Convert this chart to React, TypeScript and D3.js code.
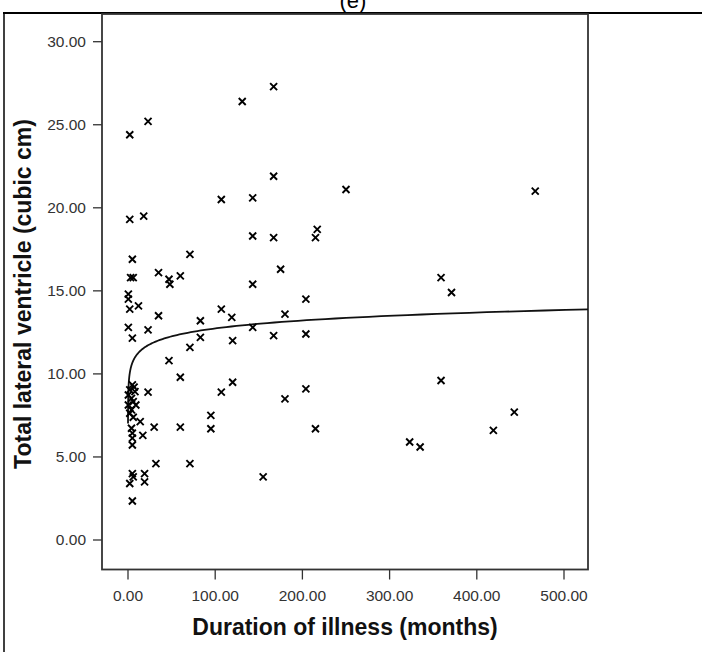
import React from "react";
import * as d3 from "d3";

// duration of illness (months) and total lateral ventricle volume (cubic cm)
const durationMonths = [
  2, 23, 131, 167, 167, 107, 143, 250, 467, 2, 18, 217, 215, 143, 167, 71, 5, 175, 35, 60,
  47, 48, 3, 6, 143, 359, 371, 204, 0.4, 0.4, 2, 12, 35, 107, 119, 180, 83, 0.4, 23, 143,
  167, 204, 5, 83, 120, 71, 47, 60, 120, 359, 204, 107, 23, 180,
  5, 7, 2, 8, 0.4, 4, 6, 0.4, 9, 4, 2, 6, 14, 4, 5, 17, 5, 5,
  30, 60, 95, 95, 215, 443, 419, 323, 335, 32, 71, 5, 6, 19, 2, 19, 5, 155,
];
const ventricleVolume = [
  24.4, 25.2, 26.4, 27.3, 21.9, 20.5, 20.6, 21.1, 21.0, 19.3, 19.5, 18.7, 18.2, 18.3, 18.2, 17.2, 16.9, 16.3, 16.1, 15.9,
  15.7, 15.4, 15.8, 15.8, 15.4, 15.8, 14.9, 14.5, 14.8, 14.5, 13.9, 14.1, 13.5, 13.9, 13.4, 13.6, 13.2, 12.8, 12.65, 12.8,
  12.3, 12.4, 12.15, 12.2, 12.0, 11.6, 10.8, 9.8, 9.5, 9.6, 9.1, 8.9, 8.9, 8.5,
  9.34, 9.2, 9.04, 8.93, 8.73, 8.53, 8.33, 8.13, 8.13, 7.83, 7.63, 7.39, 7.13, 6.73, 6.43, 6.3, 6.13, 5.72,
  6.8, 6.8, 7.5, 6.7, 6.7, 7.7, 6.6, 5.9, 5.6, 4.6, 4.6, 4.0, 3.8, 4.0, 3.4, 3.5, 2.35, 3.8,
];

const xTicks = [0, 100, 200, 300, 400, 500];
const yTicks = [0, 5, 10, 15, 20, 25, 30];

// logarithmic fit line: y = a + b * ln(x)
const fitA = 9.56;
const fitB = 0.69;
const fitStart = 0.025;

const W = 702;
const H = 652;
const frame = { left: 102, right: 588, top: 13, bottom: 569.5 };
const font = "Arial, 'Liberation Sans', sans-serif";

export default function App() {
  const x = d3.scaleLinear().domain([0, 500]).range([128, 564]);
  const y = d3.scaleLinear().domain([0, 30]).range([540, 41.7]);

  const xMax = x.invert(frame.right);
  const fitPts = d3.range(0, 201).map((i) => {
    const v = fitStart * Math.pow(xMax / fitStart, i / 200);
    return [v, fitA + fitB * Math.log(v)] as [number, number];
  });
  const fitLine = d3
    .line<[number, number]>()
    .x((d) => x(d[0]))
    .y((d) => y(d[1]));

  const points = durationMonths.map((d, i) => ({ d, v: ventricleVolume[i] }));

  return (
    <svg
      width={W}
      height={H}
      style={{ position: "absolute", left: 0, top: 0, background: "#fff" }}
      fontFamily={font}
    >
      <rect x={0} y={0} width={W} height={H} fill="#fff" />
      {/* table cell borders */}
      <text x={353} y={8} textAnchor="middle" fontSize={22} fill="#000">
        (e)
      </text>
      <line x1={3} x2={W} y1={13} y2={13} stroke="#000" strokeWidth={2} />
      <line x1={4} x2={4} y1={13} y2={H} stroke="#000" strokeWidth={1.5} />

      {/* plot frame */}
      <rect
        x={frame.left}
        y={frame.top + 1}
        width={frame.right - frame.left}
        height={frame.bottom - frame.top - 1}
        fill="none"
        stroke="#333"
        strokeWidth={1.8}
      />

      {/* y axis */}
      {yTicks.map((t) => (
        <g key={"y" + t}>
          <line x1={93} x2={frame.left} y1={y(t)} y2={y(t)} stroke="#333" strokeWidth={1.3} />
          <text x={86} y={y(t)} dy="0.35em" textAnchor="end" fontSize={15.5} fill="#333">
            {t.toFixed(2)}
          </text>
        </g>
      ))}
      <text
        transform={`translate(31,294) rotate(-90)`}
        textAnchor="middle"
        fontSize={23}
        fontWeight="bold"
        fill="#111"
      >
        Total lateral ventricle (cubic cm)
      </text>

      {/* x axis */}
      {xTicks.map((t) => (
        <g key={"x" + t}>
          <line x1={x(t)} x2={x(t)} y1={frame.bottom} y2={frame.bottom + 10} stroke="#333" strokeWidth={1.3} />
          <text x={x(t)} y={596} dy="0.35em" textAnchor="middle" fontSize={15.5} fill="#333">
            {t.toFixed(2)}
          </text>
        </g>
      ))}
      <text x={345} y={635} textAnchor="middle" fontSize={23} fontWeight="bold" fill="#111">
        Duration of illness (months)
      </text>

      {/* fit curve */}
      <path d={fitLine(fitPts) || ""} fill="none" stroke="#111" strokeWidth={1.8} />

      {/* points */}
      {points.map((p, i) => (
        <path
          key={i}
          transform={`translate(${x(p.d)},${y(p.v)})`}
          d="M-3.5,-3.5L3.5,3.5M-3.5,3.5L3.5,-3.5"
          stroke="#000"
          strokeWidth={1.9}
          fill="none"
        />
      ))}
    </svg>
  );
}
